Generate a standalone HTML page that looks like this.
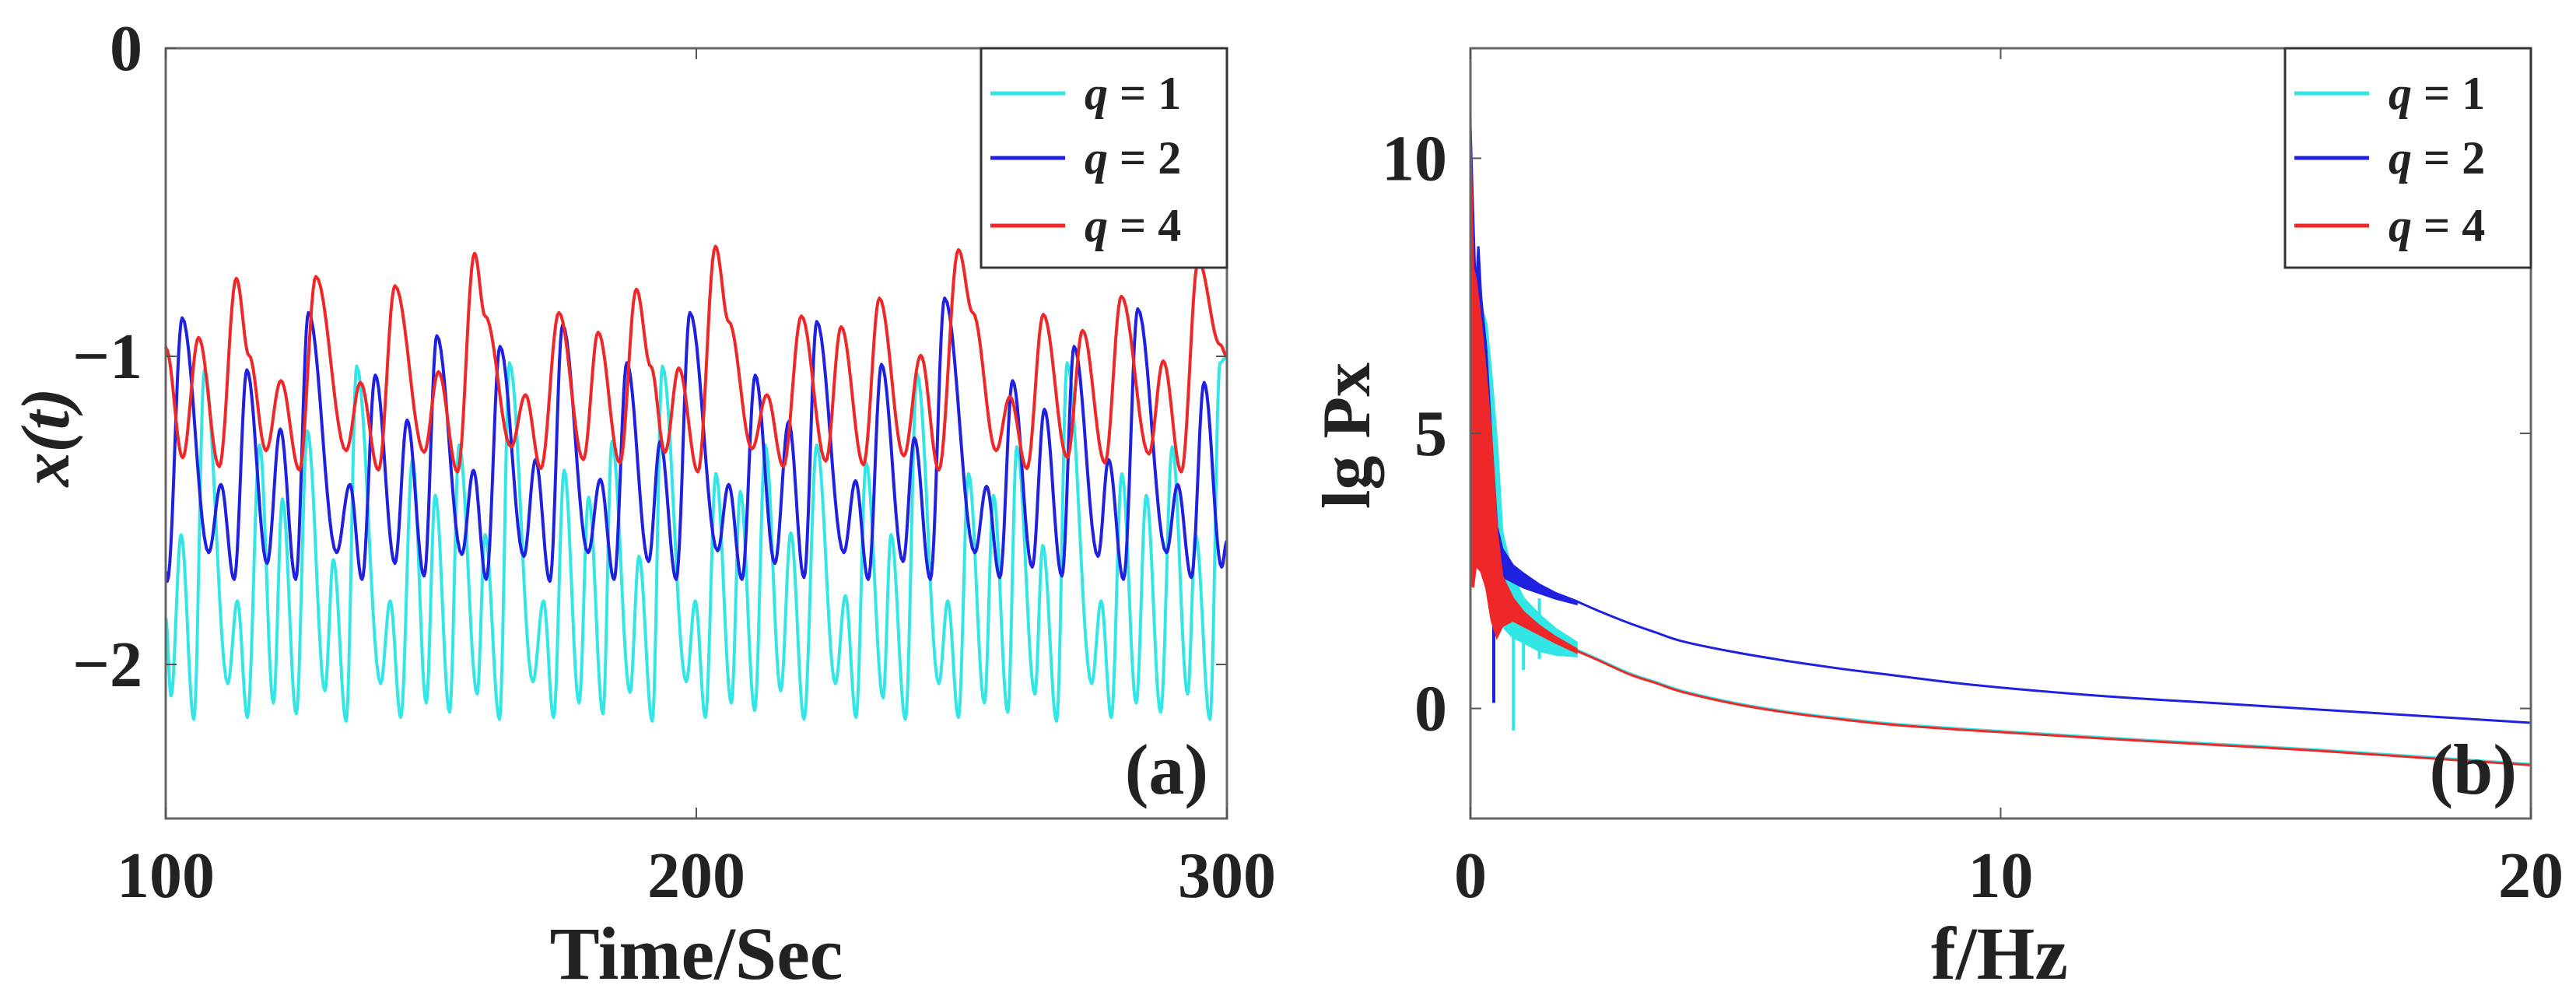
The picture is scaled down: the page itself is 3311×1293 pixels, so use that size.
<!DOCTYPE html>
<html><head><meta charset="utf-8"><style>
html,body{margin:0;padding:0;background:#fff;}
svg{display:block;}
text{font-family:"Liberation Serif",serif;font-weight:bold;fill:#222;}
</style></head><body>
<svg id="fig" width="3311" height="1293" viewBox="0 0 3311 1293" xmlns="http://www.w3.org/2000/svg">
<g id="pa"></g>
<g id="pb"></g>
</svg>
<script>
// ---------- Panel (a) data: extrema of x(t) ----------
const redT=[100,100.05,103.2,106.2,110.1,113.3,115.7,118.9,121.7,125.2,128.3,134.0,136.7,140.1,143.2,148.7,151.4,155.0,158.2,160.2,165.1,167.8,170.7,174.1,178.7,181.5,185.6,188.7,191.4,194.1,196.7,200.3,203.6,206.1,210.5,213.3,216.4,219.8,224.4,227.3,231.5,234.5,239.1,242.3,245.7,249.4,252.1,256.5,259.1,262.3,265.4,269.9,272.8,277.0,280.1,285.3,288.0,291.4,294.6,298.7,300];
const redV=[-0.97,-0.974,-1.329,-0.939,-1.358,-0.747,-0.997,-1.306,-1.079,-1.369,-0.741,-1.306,-1.085,-1.369,-0.771,-1.311,-1.050,-1.375,-0.666,-0.869,-1.294,-1.125,-1.364,-0.858,-1.335,-0.922,-1.346,-0.782,-1.032,-1.311,-1.038,-1.375,-0.643,-0.887,-1.300,-1.125,-1.358,-0.869,-1.340,-0.904,-1.352,-0.811,-1.323,-0.997,-1.369,-0.654,-0.858,-1.306,-1.131,-1.364,-0.864,-1.329,-0.916,-1.346,-0.805,-1.317,-1.015,-1.375,-0.69,-0.962,-1.0];
const blueT=[100,100.3,103.1,108.1,110.4,112.9,115.3,119.1,121.6,124.5,126.9,132.2,134.7,137.0,139.5,143.2,145.5,148.7,151.1,155.8,158.0,160.4,163.0,167.5,169.7,172.4,174.8,179.6,181.9,184.5,186.9,191.0,193.2,196.2,198.8,204.0,206.1,208.6,211.1,214.8,217.4,220.3,222.7,227.8,230.0,232.4,234.9,238.96,241.1,244.1,246.8,252.5,254.7,257.2,259.6,263.3,265.6,268.9,271.2,275.7,277.7,280.5,283.2,288.6,290.7,293.3,295.7,299.0,300];
const blueV=[-1.70,-1.730,-0.875,-1.637,-1.416,-1.724,-1.044,-1.672,-1.236,-1.724,-0.858,-1.637,-1.416,-1.724,-1.061,-1.672,-1.207,-1.713,-0.933,-1.643,-1.370,-1.724,-0.968,-1.649,-1.335,-1.730,-0.898,-1.637,-1.399,-1.724,-1.021,-1.666,-1.276,-1.724,-0.858,-1.631,-1.416,-1.724,-1.061,-1.672,-1.212,-1.718,-0.887,-1.637,-1.404,-1.724,-1.026,-1.666,-1.265,-1.724,-0.811,-1.637,-1.422,-1.718,-1.079,-1.684,-1.172,-1.713,-0.968,-1.649,-1.335,-1.724,-0.846,-1.637,-1.416,-1.718,-1.085,-1.684,-1.60];
const cyanT=[100,101.0,102.9,105.3,107.3,111.7,113.5,115.4,117.7,120.3,122.0,124.6,126.7,130.0,131.6,134.0,136.0,140.5,142.3,144.3,146.5,149.1,150.8,153.5,155.3,158.7,160.2,162.9,164.8,169.2,171.2,173.1,175.1,177.9,179.7,182.4,184.1,187.5,189.2,191.7,193.6,198.1,199.8,201.7,203.7,206.6,208.3,211.0,213.0,215.9,217.8,220.3,222.7,226.2,228.1,230.1,232.0,235.2,236.7,239.4,241.6,245.7,247.4,249.4,251.3,254.3,256.0,258.7,260.4,263.8,265.3,267.9,269.9,274.5,276.3,278.2,280.2,282.9,284.8,287.5,289.7,292.6,294.1,296.8,298.7,300];
const cyanV=[-1.85,-2.102,-1.579,-2.178,-1.044,-2.062,-1.794,-2.172,-1.288,-2.125,-1.463,-2.160,-1.242,-2.085,-1.660,-2.184,-1.032,-2.062,-1.794,-2.172,-1.335,-2.125,-1.451,-2.155,-1.288,-2.096,-1.579,-2.178,-1.021,-2.056,-1.794,-2.172,-1.370,-2.125,-1.457,-2.160,-1.276,-2.091,-1.649,-2.184,-1.032,-2.056,-1.794,-2.172,-1.381,-2.125,-1.439,-2.149,-1.288,-2.085,-1.573,-2.178,-1.288,-2.062,-1.777,-2.172,-1.346,-2.108,-1.579,-2.178,-1.056,-2.062,-1.794,-2.172,-1.381,-2.125,-1.451,-2.155,-1.294,-2.096,-1.614,-2.184,-1.021,-2.062,-1.794,-2.172,-1.381,-2.125,-1.451,-2.155,-1.294,-2.096,-1.579,-2.178,-1.021,-1.0];
const aXTicks=[100,200,300];
const aYTicks=[0,-1,-2];
const aXTickLabels=["100","200","300"];
const aYTickLabels=["0","\u22121","\u22122"];

// ---------- Panel (b) data ----------
const cyanBandF=[0,0.05,0.1,0.2,0.3,0.4,0.5,0.6,0.8,1.0,1.3,1.6,2.0];
const cyanBandHi=[10.8,8,7.8,7.3,7.0,6,4.8,3.2,2.4,2.0,1.7,1.45,1.2];
const cyanBandLo=[3,3.2,3.5,3.3,2.8,2.2,1.8,1.5,1.3,1.2,1.05,0.98,0.95];
const blueBandF=[0,0.05,0.1,0.15,0.2,0.3,0.4,0.5,0.6,0.8,1.0,1.3,1.6,2.0];
const blueBandHi=[10.6,9,7.5,8.4,7.5,6.5,4.8,3.3,2.9,2.6,2.45,2.25,2.1,1.95];
const blueBandLo=[2.6,3,3.5,4,3.6,3,2.6,2.5,2.4,2.3,2.2,2.1,2.0,1.9];
const redBandF=[0,0.05,0.1,0.2,0.3,0.4,0.5,0.6,0.8,1.0,1.3,1.6,2.0];
const redBandHi=[10.3,8,7.8,7,6,4.8,3.2,2.4,2.0,1.75,1.5,1.3,1.08];
const redBandLo=[2.5,2.2,2.6,2.5,2.2,1.6,1.3,1.5,1.6,1.5,1.35,1.2,1.02];
const cyanTailF=[2.0,2.4,3,3.5,4,5,6,7,8,9,10,12,14,16,18,20];
const cyanTailV=[1.07,0.9,0.64,0.48,0.32,0.1,-0.06,-0.18,-0.28,-0.35,-0.41,-0.53,-0.64,-0.75,-0.88,-1.01];
const blueTailF=[2.0,2.4,3,3.5,4,5,6,7,8,9,10,12,14,16,18,20];
const blueTailV=[1.95,1.78,1.55,1.38,1.22,1.02,0.86,0.72,0.6,0.48,0.38,0.22,0.1,-0.02,-0.14,-0.26];
const redTailF=[2.0,2.4,3,3.5,4,5,6,7,8,9,10,12,14,16,18,20];
const redTailV=[1.05,0.88,0.62,0.46,0.3,0.08,-0.08,-0.2,-0.3,-0.37,-0.43,-0.55,-0.66,-0.77,-0.9,-1.03];
const blueSpikeF=[0.44];
const blueSpikeV=[0.1];
const cyanSpikeF=[0.81,1.0,1.3];
const cyanSpikeV=[-0.4,0.7,0.9];
const bXTicks=[0,10,20];
const bYTicks=[10,5,0];
const bXTickLabels=["0","10","20"];
const bYTickLabels=["10","5","0"];

const NS="http://www.w3.org/2000/svg";
function mk(parent,tag,attrs,txt){const e=document.createElementNS(NS,tag);for(const k in attrs)e.setAttribute(k,attrs[k]);if(txt!==undefined)e.textContent=txt;parent.appendChild(e);return e;}

const COL={c:"#33e6e6",b:"#2020e0",r:"#ee2828"};

function axes(g,L,R,T,B,xs,ys,xt,yt,xl,yl){
  const fr=mk(g,'rect',{x:L,y:T,width:R-L,height:B-T,fill:'none',stroke:'#666','stroke-width':3});
  
  
  xt.forEach((v,i)=>{
    const x=xs(v);
    const t1=mk(g,'line',{x1:x,y1:B,x2:x,y2:B-14,stroke:'#555','stroke-width':2});
    
    
    mk(g,'line',{x1:x,y1:T,x2:x,y2:T+14,stroke:'#555','stroke-width':2});
    const tx=mk(g,'text',{x:x,y:1153,'text-anchor':'middle','font-size':84},xl[i]);
    
    
  });
  yt.forEach((v,i)=>{
    const y=ys(v);
    const t1=mk(g,'line',{x1:L,y1:y,x2:L+14,y2:y,stroke:'#555','stroke-width':2});
    
    
    mk(g,'line',{x1:R,y1:y,x2:R-14,y2:y,stroke:'#555','stroke-width':2});
    const tx=mk(g,'text',{x:L-30,y:y+28,'text-anchor':'end','font-size':84},yl[i]);
    
    
  });
}

function legend(g,x0,x1,entries){
  const bx=mk(g,'rect',{x:x0,y:62,width:x1-x0,height:282,fill:'#fff',stroke:'#333','stroke-width':3});
  
  
  const ys=[120,203,290];
  entries.forEach((e,i)=>{
    const ln=mk(g,'line',{x1:x0+12,y1:ys[i],x2:x0+108,y2:ys[i],stroke:e.c,'stroke-width':5});
    
    
    const t=mk(g,'text',{x:x0+133,y:ys[i]+20,'font-size':60});
    
    
    mk(t,'tspan',{'font-style':'italic'},'q');
    mk(t,'tspan',{},' = '+e.n);
  });
}

// ---------- Panel (a) ----------
(function(){
  const g=document.getElementById('pa');
  const L=213,R=1577,T=62,B=1052;
  const xs=t=>L+(t-100)/200*(R-L);
  const ys=v=>T+(0-v)/2.5*(B-T);
  function series(Ts,Vs,col,name){
    let d='';
    for(let i=0;i<Ts.length-1;i++){
      const n=12;
      for(let k=0;k<=n;k++){
        if(i>0&&k===0)continue;
        const s=k/n, w=(1-Math.cos(Math.PI*s))/2;
        const t=Ts[i]+(Ts[i+1]-Ts[i])*s, v=Vs[i]+(Vs[i+1]-Vs[i])*w;
        d+=(d?'L':'M')+xs(t).toFixed(1)+','+ys(v).toFixed(1);
      }
    }
    const p=mk(g,'path',{d:d,fill:'none',stroke:col,'stroke-width':4,'stroke-linejoin':'round'});
    
    
  }
  series(cyanT,cyanV,COL.c,'series-q1');
  series(blueT,blueV,COL.b,'series-q2');
  series(redT,redV,COL.r,'series-q4');
  axes(g,L,R,T,B,xs,ys,aXTicks,aYTicks,aXTickLabels,aYTickLabels);
  legend(g,1261,1577,[{c:COL.c,n:1,k:'q1'},{c:COL.b,n:2,k:'q2'},{c:COL.r,n:4,k:'q4'}]);
  const xl=mk(g,'text',{x:895,y:1258,'text-anchor':'middle','font-size':96},'Time/Sec');
  
  
  const yl=mk(g,'text',{x:0,y:0,'text-anchor':'middle','font-size':88,'font-style':'italic',transform:'translate(88,562) rotate(-90)'},'x(t)');
  
  
  const pl=mk(g,'text',{x:1553,y:1020,'text-anchor':'end','font-size':92},'(a)');
  
  
})();

// ---------- Panel (b) ----------
(function(){
  const g=document.getElementById('pb');
  const L=1890,R=3253,T=62,B=1052;
  const xs=f=>L+f/20*(R-L);
  const ys=v=>T+(12-v)/14*(B-T);
  function band(F,Hi,Lo,col,name){
    let d='';
    F.forEach((f,i)=>{d+=(i?'L':'M')+xs(f).toFixed(1)+','+ys(Hi[i]).toFixed(1);});
    for(let i=F.length-1;i>=0;i--)d+='L'+xs(F[i]).toFixed(1)+','+ys(Lo[i]).toFixed(1);
    const p=mk(g,'path',{d:d+'Z',fill:col,stroke:col,'stroke-width':3});
    
    
  }
  function line(F,V,col,name){
    const P=F.map((f,i)=>[xs(f),ys(V[i])]);
    let d='M'+P[0][0].toFixed(1)+','+P[0][1].toFixed(1);
    for(let i=0;i<P.length-1;i++){
      const p0=P[i>0?i-1:i],p1=P[i],p2=P[i+1],p3=P[i+2<P.length?i+2:i+1];
      const c1=[p1[0]+(p2[0]-p0[0])/6,p1[1]+(p2[1]-p0[1])/6];
      const c2=[p2[0]-(p3[0]-p1[0])/6,p2[1]-(p3[1]-p1[1])/6];
      d+='C'+c1[0].toFixed(1)+','+c1[1].toFixed(1)+' '+c2[0].toFixed(1)+','+c2[1].toFixed(1)+' '+p2[0].toFixed(1)+','+p2[1].toFixed(1);
    }
    const p=mk(g,'path',{d:d,fill:'none',stroke:col,'stroke-width':3,'stroke-linejoin':'round'});
    
    
  }
  function spikes(F,V,col,base,name){
    F.forEach((f,i)=>{
      const s=mk(g,'line',{x1:xs(f),y1:ys(base),x2:xs(f),y2:ys(V[i]),stroke:col,'stroke-width':4});
      
      
    });
  }
  band(cyanBandF,cyanBandHi,cyanBandLo,COL.c,'spectrum-band-q1');
  line(cyanTailF,cyanTailV,COL.c,'spectrum-q1');
  spikes(cyanSpikeF,cyanSpikeV,COL.c,2.0,'spike-q1');
  band(blueBandF,blueBandHi,blueBandLo,COL.b,'spectrum-band-q2');
  line(blueTailF,blueTailV,COL.b,'spectrum-q2');
  spikes(blueSpikeF,blueSpikeV,COL.b,2.6,'spike-q2');
  band(redBandF,redBandHi,redBandLo,COL.r,'spectrum-band-q4');
  line(redTailF,redTailV,COL.r,'spectrum-q4');
  axes(g,L,R,T,B,xs,ys,bXTicks,bYTicks,bXTickLabels,bYTickLabels);
  legend(g,2937,3253,[{c:COL.c,n:1,k:'q1'},{c:COL.b,n:2,k:'q2'},{c:COL.r,n:4,k:'q4'}]);
  const xl=mk(g,'text',{x:2570,y:1258,'text-anchor':'middle','font-size':96},'f/Hz');
  
  
  const yl=mk(g,'text',{x:0,y:0,'text-anchor':'middle','font-size':88,transform:'translate(1760,560) rotate(-90)'},'lg Px');
  
  
  const pl=mk(g,'text',{x:3235,y:1020,'text-anchor':'end','font-size':92},'(b)');
  
  
})();
</script>
</body></html>
